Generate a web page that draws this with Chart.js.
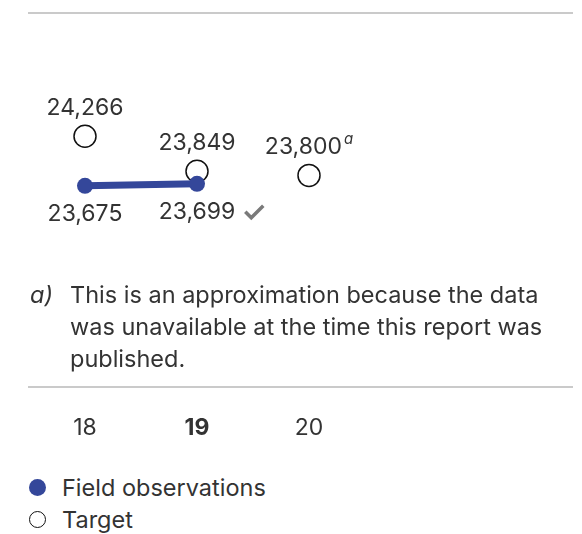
<!DOCTYPE html>
<html lang="en">
<head>
<meta charset="utf-8">
<title>Field observations vs target</title>
<script src="https://cdn.jsdelivr.net/npm/chart.js@4.4.1/dist/chart.umd.min.js"></script>
<style>
  html, body { margin: 0; padding: 0; background: #fff; }
  body { width: 582px; height: 534px; position: relative; overflow: hidden; font-family: Inter, sans-serif; color: #333; }
  .rule { position: absolute; left: 28px; width: 545px; height: 2px; background: #cacaca; }
  #chart { position: absolute; left: 0; top: 0; }
  .note { position: absolute; left: 30px; top: 279px; width: 540px; font-size: 23.5px; line-height: 32px; }
  .note i { position: absolute; left: 0; top: 0; }
  .note p { margin: 0 0 0 40px; width: 500px; }
  .legend { position: absolute; left: 29px; top: 471px; font-size: 23.5px; }
  .legend div { display: flex; align-items: center; height: 32px; }
  .dot { width: 17px; height: 17px; border-radius: 50%; margin-right: 16px; box-sizing: border-box; }
  .dot.obs { background: #34479a; }
  .dot.tgt { background: #fff; border: 1.5px solid #111; }
</style>
</head>
<body>

<div class="rule" style="top:12px"></div>
<canvas id="chart" width="582" height="445"></canvas>

<div class="note">
  <i>a)</i>
  <p>This is an approximation because the data was unavailable at the time this report was published.</p>
</div>
<div class="rule" style="top:386px"></div>

<div class="legend">
  <div><span class="dot obs"></span>Field observations</div>
  <div><span class="dot tgt"></span>Target</div>
</div>

<script>
// ─── Dados ───────────────────────────────────────────────────────────────────

const years    = ["18", "19", "20"];
const observed = [23675, 23699, null];
const target   = [24266, 23849, 23800];
const notes    = ["", "", "a"];        // nota de rodapé por ano (alvo)
const reached  = [false, true, false]; // marca de verificação (observado)

// ─── Rótulos dos pontos ──────────────────────────────────────────────────────

const FONT = "Inter, sans-serif";
const fmt  = v => v.toLocaleString("en-US");

const pointLabels = {
  id: "pointLabels",
  afterDatasetsDraw(chart) {
    const ctx = chart.ctx;
    ctx.save();
    ctx.fillStyle = "#333";
    ctx.textBaseline = "middle";
    ctx.textAlign = "left";

    chart.data.datasets.forEach((ds, di) => {
      const meta  = chart.getDatasetMeta(di);
      const above = ds.label === "Target";
      meta.data.forEach((pt, i) => {
        const v = ds.data[i];
        if (v == null) return;
        const txt = fmt(v);
        const y = pt.y + (above ? -28 : 28);

        ctx.font = "23px " + FONT;
        const w = ctx.measureText(txt).width;
        let sw = 0;
        if (above && notes[i]) {
          ctx.font = "italic 15px " + FONT;
          sw = ctx.measureText(notes[i]).width + 2;
        }
        const x0 = pt.x - (w + sw) / 2;
        ctx.font = "23px " + FONT;
        ctx.fillText(txt, x0, y);

        // nota sobrescrita
        if (sw) {
          ctx.font = "italic 15px " + FONT;
          ctx.fillText(notes[i], x0 + w + 2, y - 8);
        }

        // check cinza depois do valor
        if (!above && reached[i]) {
          const cx = x0 + w + 10;
          ctx.strokeStyle = "#7a7a7a";
          ctx.lineWidth = 3.5;
          ctx.beginPath();
          ctx.moveTo(cx, y);
          ctx.lineTo(cx + 6, y + 6);
          ctx.lineTo(cx + 18, y - 6);
          ctx.stroke();
        }
      });
    });
    ctx.restore();
  }
};

// ─── Gráfico ─────────────────────────────────────────────────────────────────

new Chart(document.getElementById("chart"), {
  type: "line",
  data: {
    labels: years,
    datasets: [
      {
        label: "Field observations",
        data: observed,
        borderColor: "#34479a",
        borderWidth: 7,
        pointRadius: 8,
        pointBackgroundColor: "#34479a",
        pointBorderWidth: 0,
        spanGaps: false,
      },
      {
        label: "Target",
        data: target,
        showLine: false,
        pointRadius: 11,
        pointBackgroundColor: "#fff",
        pointBorderColor: "#111",
        pointBorderWidth: 1.5,
      }
    ]
  },
  options: {
    responsive: false,
    devicePixelRatio: 1,
    animation: false,
    events: [],
    layout: { padding: { left: 29, right: 217, top: 20, bottom: 0 } },
    plugins: {
      legend: { display: false },
      tooltip: { enabled: false },
    },
    scales: {
      x: {
        offset: true,
        grid: { display: false },
        border: { display: false },
        ticks: {
          color: "#333",
          padding: 3,
          font: c => ({ family: FONT, size: 23, weight: c.index === 1 ? "bold" : "normal" }),
        }
      },
      y: {
        display: false,
        min: 21081,
        max: 25653,
      }
    }
  },
  plugins: [pointLabels]
});
</script>
</body>
</html>
